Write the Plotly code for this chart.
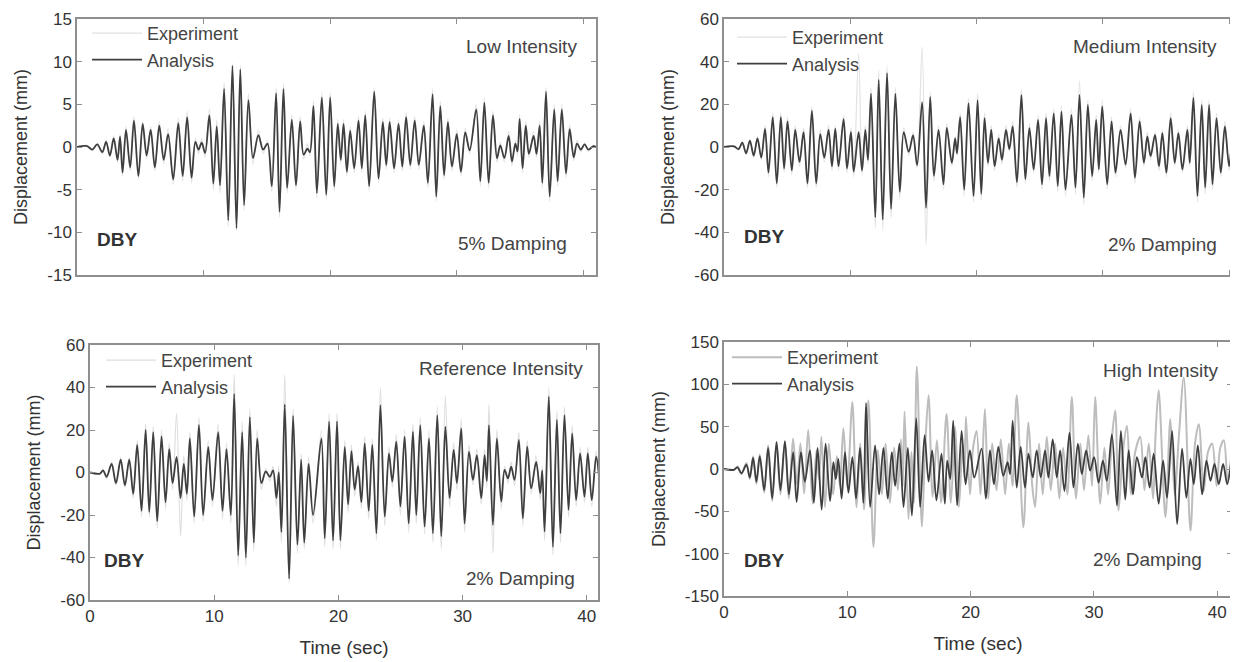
import plotly.graph_objects as go

# ---------------- data (local peaks / troughs) ----------------
T_LOW = [0.0, 0.8, 1.2, 1.6, 2.0, 2.3, 2.6, 2.9, 3.2, 3.4,
         3.6, 3.87, 4.2, 4.5, 4.85, 5.19, 5.5, 5.82, 6.15, 6.5,
         6.85, 7.2, 7.6, 8.0, 8.35, 8.7, 9.05, 9.35, 9.6, 9.85,
         10.12, 10.46, 10.77, 11.04, 11.3, 11.62, 11.95, 12.28, 12.6, 12.9,
         13.2, 13.54, 13.9, 14.33, 14.7, 15.05, 15.39, 15.73, 16.0, 16.31,
         16.6, 16.97, 17.3, 17.63, 17.9, 18.2, 18.4, 18.68, 18.95, 19.34,
         19.69, 20.0, 20.32, 20.6, 20.84, 21.06, 21.32, 21.58, 21.9, 22.24,
         22.5, 22.77, 23.08, 23.48, 23.82, 24.16, 24.43, 24.7, 25.05, 25.4,
         25.7, 26.0, 26.33, 26.68, 27.0, 27.4, 27.72, 28.09, 28.38, 28.7,
         29.0, 29.3, 29.62, 30.0, 30.33, 30.67, 31.02, 31.54, 31.86, 32.18,
         32.52, 32.86, 33.18, 33.44, 33.76, 34.1, 34.36, 34.63, 34.8, 34.97,
         35.2, 35.45, 35.7, 36.07, 36.3, 36.55, 36.76, 37.05, 37.34, 37.7,
         37.97, 38.3, 38.63, 38.92, 39.24, 39.5, 39.8, 40.1, 40.4, 40.8,
         41.0]
ANA_LOW = [0, 0.1, -0.3, 0.3, -0.6, 0.6, -1.0, 1.0, -1.5, 1.2,
           -3.0, 2.0, -2.4, 3.1, -3.4, 2.7, -1.0, 2.0, -2.4, 2.5,
           -1.5, 1.5, -3.8, 2.8, -3.4, 3.5, -3.6, 0.6, -0.3, 0.5,
           -0.7, 3.7, -4.3, 2.4, -4.5, 6.8, -8.6, 9.5, -9.5, 9.1,
           -6.8, 5.5, -1.3, 1.4, -0.3, 0.4, -4.6, 6.3, -7.6, 6.8,
           -4.8, 3.2, -4.5, 3.0, -0.9, -0.2, -0.6, 4.8, -5.4, 5.8,
           -5.6, 5.8, -4.6, 2.7, -1.5, 2.7, -2.9, 1.9, -2.5, 3.1,
           -2.5, 3.7, -4.6, 6.5, -3.7, 2.9, -2.1, 2.9, -2.5, 2.7,
           -2.3, 3.5, -2.1, 3.1, -2.1, 2.5, -4.2, 6.2, -5.8, 4.8,
           -3.3, 2.9, -2.3, 1.5, -2.9, 1.7, -0.4, 4.4, -4.0, 5.2,
           -4.2, 3.7, -1.3, 0.2, -1.3, 1.3, -1.7, 0.4, -0.5, 3.3,
           -2.5, 2.5, -0.8, 1.3, -0.8, 2.5, -4.2, 6.5, -5.8, 4.4,
           -4.0, 4.4, -3.1, 2.1, -1.2, 0.4, -0.3, 0.3, -0.3, 0.1,
           0]
EXP_LOW = [0, 0.2, -0.4, 0.4, -0.8, 0.8, -1.2, 1.3, -1.8, 1.5,
           -3.4, 2.4, -2.8, 3.6, -3.8, 3.0, -1.4, 2.4, -2.8, 3.0,
           -2.0, 2.2, -4.4, 3.4, -4.0, 4.2, -4.2, 1.0, -0.8, 1.0,
           -1.2, 4.4, -5.0, 3.2, -5.4, 7.6, -9.4, 9.8, -9.8, 9.6,
           -7.4, 6.2, -2.0, 2.0, -0.8, 0.8, -5.2, 7.0, -8.2, 7.4,
           -5.4, 3.8, -5.0, 3.6, -1.4, 0.4, -1.0, 5.4, -6.0, 6.4,
           -6.2, 6.4, -5.2, 3.2, -2.0, 3.2, -3.4, 2.4, -3.0, 3.6,
           -3.0, 4.2, -5.2, 7.0, -4.2, 3.4, -2.6, 3.4, -3.0, 3.2,
           -2.8, 4.0, -2.6, 3.6, -2.6, 3.0, -4.8, 6.8, -6.4, 5.4,
           -3.8, 3.4, -2.8, 2.0, -3.4, 2.2, -0.8, 5.0, -4.6, 5.8,
           -4.8, 4.2, -1.8, 0.6, -1.8, 1.8, -2.2, 0.8, -1.0, 3.8,
           -3.0, 3.0, -1.2, 1.8, -1.2, 3.0, -4.8, 7.0, -6.4, 5.0,
           -4.6, 5.0, -3.6, 2.6, -1.6, 0.8, -0.6, 0.5, -0.5, 0.2,
           0]

T_MED = [0.0, 0.8, 1.15, 1.45, 1.75, 2.05, 2.35, 2.65, 2.95, 3.25,
         3.52, 3.86, 4.18, 4.5, 4.76, 5.03, 5.37, 5.64, 5.98, 6.3,
         6.61, 6.96, 7.3, 7.62, 7.94, 8.28, 8.55, 8.81, 9.07, 9.47,
         9.74, 10.05, 10.27, 10.66, 10.93, 11.19, 11.4, 11.64, 11.98, 12.25,
         12.57, 12.91, 13.23, 13.57, 13.92, 14.23, 14.63, 14.97, 15.29, 15.69,
         16.0, 16.33, 16.62, 16.99, 17.38, 17.64, 18.04, 18.3, 18.45, 18.7,
         19.02, 19.36, 19.76, 20.08, 20.37, 20.63, 20.9, 21.16, 21.43, 21.75,
         22.01, 22.33, 22.59, 22.86, 23.2, 23.55, 23.86, 24.18, 24.52, 24.87,
         25.18, 25.5, 25.77, 26.11, 26.43, 26.72, 27.04, 27.51, 27.83, 28.15,
         28.49, 28.81, 29.15, 29.47, 29.68, 29.95, 30.34, 30.69, 31.0, 31.4,
         31.8, 32.2, 32.54, 32.91, 33.25, 33.52, 33.78, 34.13, 34.44, 34.71,
         35.03, 35.37, 35.69, 35.98, 36.3, 36.69, 36.88, 37.17, 37.49, 37.83,
         38.1, 38.41, 38.68, 39.0, 39.34, 39.66, 40.0, 40.32, 40.66, 41.0,
         41.4]
ANA_MED = [0, 0.3, -1, 2, -3, 3, -4, 4, -5, 8.5,
           -12, 14, -17, 14, -10, 12, -11, 8, -7, 7,
           -17, 17, -17, 6, -5, 8, -9, 8.5, -9, 13,
           -10, 7, -11.5, 7, -11, 8, -6, 25, -33, 31.5,
           -34, 34.6, -29, 25, -21, 7, -2.3, 5.4, -8.5, 21,
           -28.5, 23.5, -13.5, 8, -17.5, 9, -7.4, 4, -3, 14,
           -20, 20.5, -23, 22, -22, 13.5, -7.4, 8, -9, 4,
           -6, 8, -1, 9.6, -16.6, 24.4, -15, 8.8, -10.5, 12.7,
           -17.5, 13.5, -13.6, 15.8, -18.3, 16.6, -20, 15, -19, 24.4,
           -23.7, 19.7, -13.6, 12.7, -10.5, 19, -17.5, 12, -12, 8,
           -8.2, 15.8, -14.4, 12, -7.4, 5, -4.3, 5.7, -9, 6.5,
           -12, 13.5, -7.4, 6.5, -10.5, 8, -7.4, 23, -23, 19.7,
           -19, 19.7, -17.5, 13.5, -12, 9.6, -9, 6.5, -6, 5,
           -4]
EXP_MED = [0, 0.5, -1.5, 2.5, -3.5, 3.5, -5, 5, -6, 10,
           -14, 16, -19, 16, -12, 14, -13, 10, -9, 9,
           -19, 19, -19, 8, -7, 10, -11, 10, -11, 15,
           -12, 9, -14, 44, -13, 10, -8, 28, -38, 36,
           -39, 38, -33, 28, -24, 9, -4, 7, -10, 47,
           -46, 26, -16, 10, -20, 11, -9, 5, -4, 16,
           -23, 23, -26, 25, -25, 16, -9, 10, -11, 6,
           -8, 10, -2, 12, -19, 27, -17, 11, -12, 15,
           -20, 16, -16, 18, -21, 19, -23, 18, -22, 31,
           -27, 22, -16, 15, -12, 22, -20, 14, -14, 10,
           -10, 18, -17, 14, -9, 7, -6, 7, -11, 8,
           -14, 16, -9, 8, -12, 10, -9, 26, -26, 22,
           -22, 22, -20, 16, -14, 12, -11, 8, -8, 6,
           -5]

T_REF = [0.0, 0.8, 1.05, 1.34, 1.74, 2.09, 2.47, 2.81, 3.16, 3.48,
         3.8, 4.15, 4.48, 4.77, 5.09, 5.41, 5.76, 6.08, 6.38, 6.65,
         6.97, 7.29, 7.55, 7.8, 8.04, 8.39, 8.77, 9.11, 9.52, 9.86,
         10.32, 10.67, 10.99, 11.34, 11.61, 11.93, 12.25, 12.55, 12.87, 13.19,
         13.46, 13.8, 14.15, 14.48, 14.74, 15.01, 15.2, 15.41, 15.68, 16.03,
         16.35, 16.7, 17.0, 17.25, 17.6, 17.96, 18.63, 18.9, 19.25, 19.57,
         19.89, 20.16, 20.51, 20.78, 21.05, 21.31, 21.58, 21.85, 22.12, 22.44,
         22.73, 23.06, 23.38, 23.73, 24.07, 24.34, 24.66, 24.99, 25.33, 25.66,
         26.0, 26.27, 26.59, 26.94, 27.29, 27.61, 27.96, 28.28, 28.61, 28.95,
         29.28, 29.54, 29.89, 30.16, 30.51, 30.83, 31.15, 31.5, 31.77, 31.95,
         32.12, 32.44, 32.76, 33.11, 33.38, 33.65, 33.91, 34.18, 34.53, 34.85,
         35.2, 35.52, 35.92, 36.25, 36.41, 36.6, 36.94, 37.27, 37.59, 37.88,
         38.2, 38.53, 38.82, 39.14, 39.46, 39.81, 40.08, 40.4, 40.75, 41.0]
ANA_REF = [0, -0.5, 1, -2, 4, -5, 6, -6, 6, -10,
           13, -18, 20, -18.5, 19, -23, 17, -14, 11, -5,
           7.4, -12, 4, -10, 16, -20.8, 22.4, -20, 12, -13,
           19, -18, 11, -20, 37, -39, 19, -40, 26, -33,
           16, -5, 0.5, -2, 1, -12, 0, -28, 32, -50,
           26.6, -34, 6, -33, 4, -20, 16, -31, 24, -32,
           24, -32, 12, -15, 10, -8, 3, -14, 13.7, -18,
           13, -28.6, 31.7, -20.8, 9, -4.3, 14.5, -16, 16.9, -24,
           19.2, -20, 22.3, -25.5, 16, -28.6, 27, -30, 21.6, -12,
           10.6, -5, 20.8, -24, 9.8, -3.5, 8.2, -12, 8.2, -4,
           22.3, -24.7, 16, -13.7, 1.2, -2.7, 2.7, -3.5, 15.3, -21.6,
           12.2, -7.5, 5, -9.8, 1, -27.8, 35.7, -35, 24.7, -28.6,
           27, -17.6, 18.4, -13, 9, -11.4, 9, -13, 7.5, -3]
EXP_REF = [0, -0.8, 1.5, -3, 5, -6, 7, -7, 7, -12,
           15, -21, 23, -21, 22, -26, 20, -17, 14, -8,
           28, -30, 8, -13, 19, -24, 26, -23, 15, -16,
           23, -22, 14, -24, 46, -44, 24, -44, 30, -37,
           20, -8, 2, -4, 3, -16, 3, -33, 46, -52,
           30, -38, 9, -36, 7, -24, 20, -35, 28, -36,
           28, -36, 15, -19, 13, -11, 5, -17, 17, -22,
           16, -32, 40, -25, 12, -7, 18, -20, 20, -28,
           23, -24, 26, -29, 20, -33, 31, -36, 36, -16,
           14, -8, 25, -28, 13, -6, 11, -15, 11, -7,
           32, -38, 20, -17, 3, -5, 5, -6, 19, -25,
           15, -10, 8, -13, 3, -32, 40, -39, 29, -33,
           31, -21, 22, -16, 12, -14, 12, -16, 10, -4]

T_HIGH = [0.0, 0.8, 1.1, 1.41, 1.82, 2.09, 2.36, 2.63, 2.9, 3.26,
          3.58, 3.91, 4.26, 4.58, 4.94, 5.26, 5.61, 5.89, 6.24, 6.56,
          6.97, 7.29, 7.59, 7.92, 8.24, 8.6, 8.87, 9.07, 9.27, 9.54,
          9.81, 10.09, 10.41, 10.71, 11.03, 11.31, 11.52, 11.85, 12.25, 12.58,
          12.93, 13.28, 13.61, 13.88, 14.23, 14.56, 14.91, 15.24, 15.59, 15.91,
          16.27, 16.59, 16.88, 17.23, 17.64, 17.91, 18.1, 18.35, 18.59, 18.91,
          19.27, 19.59, 19.94, 20.3, 20.89, 21.24, 21.57, 21.89, 22.25, 22.65,
          23.0, 23.2, 23.41, 23.74, 24.06, 24.41, 24.69, 25.04, 25.36, 25.69,
          26.04, 26.31, 26.66, 26.99, 27.26, 27.61, 28.02, 28.34, 28.7, 29.02,
          29.37, 29.7, 30.02, 30.38, 30.73, 31.05, 31.46, 31.87, 32.19, 32.54,
          32.82, 33.17, 33.49, 33.9, 34.17, 34.52, 34.85, 35.25, 35.61, 35.93,
          36.34, 36.75, 37.15, 37.5, 37.83, 38.1, 38.43, 38.78, 39.13, 39.46,
          39.78, 40.13, 40.48, 40.81, 41.1]
ANA_HIGH = [0, -1, 2, -5, 5, -10, 13, -15, 15, -25,
            25, -35, 32, -25, 33, -30, 20, -39, 20, -15,
            22, -40, 25, -48, 30, -38, 8, -12, 12, -35,
            20, -28, 14, -35, 25, -40, 78, -45, 28, -30,
            25, -35, 20, -20, 30, -45, 25, -55, 60, -45,
            40, -15, 22, -37, 18, -41, 10, -12, 57, -43,
            45, -18, 22, -10, 24, -35, 22, -18, 26, -8,
            8, -6, 57, -22, 26, -22, 18, -10, 22, -10,
            22, -10, 35, -10, 22, -26, 43, -22, 30, -6,
            22, -2, 14, -16, 10, -14, 41, -43, 45, -36,
            22, -30, 14, -10, 14, -22, 18, -41, 10, -34,
            45, -65, 24, -34, 12, -18, 28, -30, 10, -14,
            6, -18, 6, -18, 5]
T_HIGH_EXP = [0.0, 0.8, 1.1, 1.41, 1.82, 2.09, 2.36, 2.63, 2.9, 3.26,
              3.58, 3.91, 4.26, 4.58, 4.94, 5.26, 5.6, 5.92, 6.2, 6.5,
              6.83, 7.19, 7.5, 7.7, 7.9, 8.19, 8.5, 8.85, 9.15, 9.4,
              9.68, 10.0, 10.41, 10.75, 11.05, 11.35, 11.71, 12.12, 12.47, 12.8,
              13.1, 13.45, 13.8, 14.1, 14.35, 14.5, 14.64, 14.96, 15.2, 15.4,
              15.64, 16.05, 16.3, 16.59, 16.92, 17.27, 17.6, 18.05, 18.4, 18.75,
              19.05, 19.35, 19.5, 19.62, 19.95, 20.2, 20.49, 20.8, 21.16, 21.43,
              21.75, 22.1, 22.45, 22.8, 23.1, 23.4, 23.74, 24.28, 24.69, 25.0,
              25.23, 25.55, 25.85, 26.18, 26.5, 26.85, 27.2, 27.5, 27.85, 28.21,
              28.55, 28.9, 29.2, 29.55, 29.85, 30.1, 30.51, 30.85, 31.15, 31.45,
              31.73, 32.0, 32.35, 32.68, 33.0, 33.35, 33.76, 34.1, 34.45, 34.8,
              35.0, 35.25, 35.8, 36.2, 36.55, 36.9, 37.29, 37.83, 38.2, 38.51,
              38.91, 39.25, 39.59, 39.95, 40.25, 40.54, 40.85, 41.1]
EXP_HIGH = [0, -1, 3, -6, 7, -12, 15, -18, 17, -28,
            28, -38, 30, -30, 32, -35, 36, -18, 30, -29,
            46, -41, 22, -12, 38, -45, 30, -30, 15, -20,
            48, -21, 79, -45, 30, -48, 81, -92, 22, -30,
            30, -40, 25, -25, 35, -20, 68, -59, 20, -40,
            121, -68, 20, 87, -33, 34, -40, 65, -40, 50,
            -45, 30, -10, 62, -30, 25, 45, -30, 71, -35,
            30, -25, 35, -30, 30, -20, 87, -69, 55, -20,
            -45, 30, -30, 38, -25, 30, -35, 25, -30, 85,
            -35, 30, -25, 40, -20, 85, -41, 25, -30, 35,
            69, -49, 20, 51, -30, 20, 38, -25, 30, -35,
            40, 93, -57, 59, -30, 40, 108, -73, 30, 53,
            -26, 20, 30, -20, 25, 34, -15, 10]

INTENSITY = ["Low Intensity", "Medium Intensity", "Reference Intensity", "High Intensity"]
DAMPING = ["5% Damping", "2% Damping", "2% Damping", "2% Damping"]
RECORD = "DBY"
SERIES_NAMES = ["Experiment", "Analysis"]
X_TICKS = [0, 10, 20, 30, 40]
Y_TICKS_LOW = [-15, -10, -5, 0, 5, 10, 15]
Y_TICKS_MED = [-60, -40, -20, 0, 20, 40, 60]
Y_TICKS_REF = [-60, -40, -20, 0, 20, 40, 60]
Y_TICKS_HIGH = [-150, -100, -50, 0, 50, 100, 150]
X_TITLE = "Time (sec)"
Y_TITLE = "Displacement (mm)"

# ---------------- layout / styling ----------------
OFF = 8                      # page body margin of the html page
W, H = 1238 - OFF, 662 - OFF
FONT = "Liberation Sans, Arial, sans-serif"
FRAME = "#8f8f8f"
TXT = "#3a3a3a"

def px(x):
    return (x - OFF) / W

def py(y):
    return 1 - (y - OFF) / H

panels = [
    dict(t_e=T_LOW, e=EXP_LOW, t_a=T_LOW, a=ANA_LOW, yt=Y_TICKS_LOW,
         dom_x=(77, 596), dom_y=(19, 275), xr=[0, 41.0], xlab=False,
         exp_col="#e2e2e2", exp_w=1.2),
    dict(t_e=T_MED, e=EXP_MED, t_a=T_MED, a=ANA_MED, yt=Y_TICKS_MED,
         dom_x=(724, 1240), dom_y=(19, 275), xr=[0, 40.7], xlab=False,
         exp_col="#e2e2e2", exp_w=1.2),
    dict(t_e=T_REF, e=EXP_REF, t_a=T_REF, a=ANA_REF, yt=Y_TICKS_REF,
         dom_x=(90, 598), dom_y=(345, 600), xr=[0, 40.9], xlab=True,
         exp_col="#dedede", exp_w=1.2),
    dict(t_e=T_HIGH_EXP, e=EXP_HIGH, t_a=T_HIGH, a=ANA_HIGH, yt=Y_TICKS_HIGH,
         dom_x=(724, 1232), dom_y=(342, 596), xr=[0, 41.2], xlab=True,
         exp_col="#bdbdbd", exp_w=2.0),
]

# label pixel positions: (intensity right x, y), (damping right x, y), (DBY left x, y)
label_pos = [
    ((579, 46), (569, 243), (95, 240)),
    ((1219, 46), (1219, 244), (742, 236)),
    ((585, 368), (577, 578), (102, 560)),
    ((1221, 370), (1204, 559), (742, 560)),
]
legend_pos = [(87, 15), (732, 19), (101, 342), (727, 339)]

fig = go.Figure()
layout = dict(
    width=W, height=H, margin=dict(l=0, r=0, t=0, b=0),
    paper_bgcolor="white", plot_bgcolor="white", template="none",
    font=dict(family=FONT, color=TXT), annotations=[], showlegend=True,
)

for i, p in enumerate(panels):
    k = "" if i == 0 else str(i + 1)
    lg = "legend" if i == 0 else "legend" + str(i + 1)
    fig.add_trace(go.Scatter(x=p["t_e"], y=p["e"], mode="lines", name=SERIES_NAMES[0],
                             line=dict(color=p["exp_col"], width=p["exp_w"],
                                       shape="spline", smoothing=0.9),
                             xaxis="x" + k, yaxis="y" + k, legend=lg, hoverinfo="skip"))
    fig.add_trace(go.Scatter(x=p["t_a"], y=p["a"], mode="lines", name=SERIES_NAMES[1],
                             line=dict(color="#3f3f3f", width=1.8,
                                       shape="spline", smoothing=0.9),
                             xaxis="x" + k, yaxis="y" + k, legend=lg, hoverinfo="skip"))
    ymax = p["yt"][-1]
    layout["xaxis" + k] = dict(
        domain=[px(p["dom_x"][0]), min(1.0, px(p["dom_x"][1]))], range=p["xr"], anchor="y" + k,
        tickvals=X_TICKS, showticklabels=p["xlab"], ticks="inside", ticklen=5,
        tickcolor=FRAME, showline=True, linecolor=FRAME, linewidth=1.5, mirror="allticks",
        showgrid=False, zeroline=False, automargin=False, ticklabeloverflow="allow",
        tickfont=dict(size=17, color="#333333"),
        title=dict(text=X_TITLE if p["xlab"] else "", font=dict(size=19, color="#333333"), standoff=16),
    )
    layout["yaxis" + k] = dict(
        domain=[py(p["dom_y"][1]), py(p["dom_y"][0])], range=[-ymax, ymax], anchor="x" + k,
        tickvals=p["yt"], ticktext=[str(v) for v in p["yt"]],
        ticks="inside", ticklen=5, tickcolor=FRAME,
        showline=True, linecolor=FRAME, linewidth=1.5, mirror="allticks",
        showgrid=False, zeroline=False, automargin=False, ticklabeloverflow="allow",
        tickfont=dict(size=17, color="#333333"),
        title=dict(text=Y_TITLE, font=dict(size=18, color="#333333"), standoff=15),
    )
    layout[lg] = dict(
        x=px(legend_pos[i][0]), y=py(legend_pos[i][1]), xanchor="left", yanchor="top",
        bgcolor="rgba(0,0,0,0)", borderwidth=0, itemwidth=50,
        font=dict(size=18, color="#444444"), tracegroupgap=0, itemclick=False,
    )
    (ix, iy), (dx, dy), (bx, by) = label_pos[i]
    layout["annotations"] += [
        dict(text=INTENSITY[i], x=px(ix), y=py(iy), xref="paper", yref="paper",
             xanchor="right", yanchor="middle", showarrow=False,
             font=dict(size=19, color="#444444")),
        dict(text=DAMPING[i], x=px(dx), y=py(dy), xref="paper", yref="paper",
             xanchor="right", yanchor="middle", showarrow=False,
             font=dict(size=19, color="#444444")),
        dict(text="<b>" + RECORD + "</b>", x=px(bx), y=py(by), xref="paper", yref="paper",
             xanchor="left", yanchor="middle", showarrow=False,
             font=dict(size=19, color="#333333")),
    ]

fig.update_layout(**layout)
fig.write_html("out.html")
